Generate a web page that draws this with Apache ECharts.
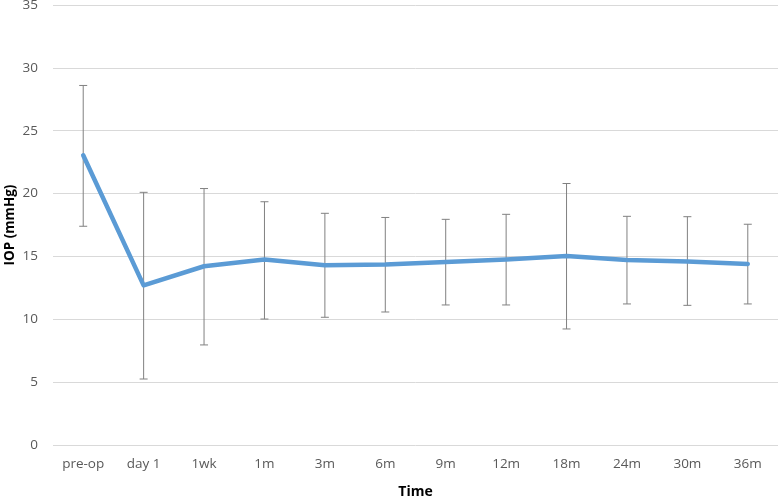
<!DOCTYPE html>
<html>
<head>
<meta charset="utf-8">
<script src="https://cdn.jsdelivr.net/npm/echarts@6/dist/echarts.min.js"></script>
<style>
html,body{margin:0;padding:0;background:#fff;}
#chart{width:778px;height:497px;}
</style>
</head>
<body>
<div id="chart"></div>
<script>
const categories = ['pre-op','day 1','1wk','1m','3m','6m','9m','12m','18m','24m','30m','36m'];
const meanIOP = [23.05, 12.7, 14.22, 14.75, 14.3, 14.35, 14.55, 14.75, 15.04, 14.72, 14.6, 14.4];
const lowIOP  = [17.4, 5.25, 7.96, 10.02, 10.16, 10.58, 11.14, 11.14, 9.23, 11.22, 11.11, 11.22];
const highIOP = [28.6, 20.1, 20.4, 19.35, 18.43, 18.1, 17.95, 18.35, 20.8, 18.19, 18.16, 17.56];
const yTicks = [0, 5, 10, 15, 20, 25, 30, 35];
const yTitle = 'IOP (mmHg)';

const errData = categories.map((c, i) => [i, lowIOP[i], highIOP[i]]);
const font = 'Open Sans, Liberation Sans, sans-serif';

const chart = echarts.init(document.getElementById('chart'), null, {renderer: 'canvas'});
chart.setOption({
  animation: false,
  backgroundColor: '#ffffff',
  grid: {left: 53, right: 0, top: 5, bottom: 52, containLabel: false, outerBoundsMode: 'none'},
  graphic: [{
    type: 'text',
    x: 10,
    y: 225,
    rotation: Math.PI / 2,
    style: {
      text: yTitle,
      fontFamily: font,
      fontWeight: 'bold',
      fontSize: 13.5,
      fill: '#000',
      align: 'center',
      verticalAlign: 'middle'
    }
  }],
  xAxis: {
    type: 'category',
    data: categories,
    boundaryGap: true,
    name: 'Time',
    nameLocation: 'middle',
    nameGap: 40,
    nameTextStyle: {fontFamily: font, fontWeight: 'bold', fontSize: 14, color: '#000'},
    axisLine: {show: false},
    axisTick: {show: false},
    axisLabel: {fontFamily: font, fontSize: 13.5, color: '#595959', margin: 12}
  },
  yAxis: {
    type: 'value',
    min: yTicks[0],
    max: yTicks[yTicks.length - 1],
    interval: 5,
    axisLine: {show: false},
    axisTick: {show: false},
    axisLabel: {fontFamily: font, fontSize: 13.5, color: '#595959', margin: 15},
    splitLine: {lineStyle: {color: '#d9d9d9', width: 1}}
  },
  series: [
    {
      type: 'custom',
      data: errData,
      z: 2,
      renderItem: function (params, api) {
        const x = api.value(0);
        const lo = api.coord([x, api.value(1)]);
        const hi = api.coord([x, api.value(2)]);
        const hw = 4;
        const style = {stroke: '#808080', lineWidth: 1, fill: null};
        return {
          type: 'group',
          children: [
            {type: 'line', shape: {x1: hi[0], y1: hi[1], x2: lo[0], y2: lo[1]}, style: style},
            {type: 'line', shape: {x1: hi[0] - hw, y1: hi[1], x2: hi[0] + hw, y2: hi[1]}, style: style},
            {type: 'line', shape: {x1: lo[0] - hw, y1: lo[1], x2: lo[0] + hw, y2: lo[1]}, style: style}
          ]
        };
      }
    },
    {
      type: 'line',
      data: meanIOP,
      z: 3,
      smooth: false,
      symbol: 'none',
      lineStyle: {color: '#5b9bd5', width: 4.5, cap: 'round', join: 'round'}
    }
  ]
});
</script>
</body>
</html>
